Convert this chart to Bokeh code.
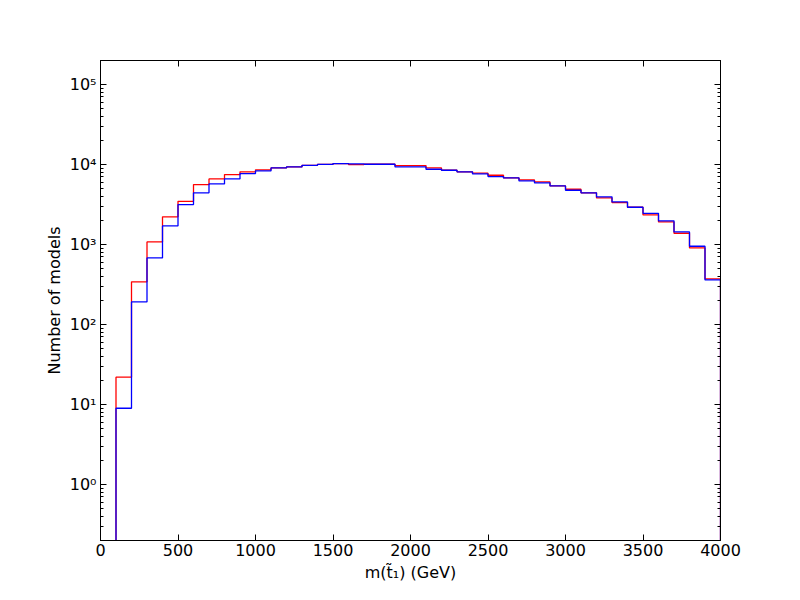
from bokeh.plotting import figure
from bokeh.models import (Range1d, FixedTicker, LinearAxis, LogAxis,
                          CustomJSTickFormatter)
from bokeh.embed import file_html
from bokeh.resources import INLINE

# ---- data ----
bin_edges = [100 + 100 * i for i in range(40)]  # 100 .. 4000 GeV
red_counts = [22, 342, 1080, 2220, 3470, 5620, 6610, 7500, 8110, 8590,
              9080, 9340, 9800, 10050, 10290, 10000, 10090, 10090, 9720, 9720,
              9080, 8490, 8110, 7800, 7360, 6810, 6430, 6070, 5410, 4920,
              4430, 3830, 3350, 2930, 2350, 1920, 1385, 909, 373]
blue_counts = [9, 192, 682, 1713, 3160, 4430, 5730, 6610, 7720, 8320,
               9080, 9340, 9800, 10050, 10290, 10190, 10090, 10090, 9360, 9360,
               8740, 8490, 8110, 7640, 7080, 6810, 6250, 5900, 5410, 4780,
               4430, 3950, 3410, 2930, 2460, 1980, 1440, 953, 362]
x_ticks = [0, 500, 1000, 1500, 2000, 2500, 3000, 3500, 4000]
y_major = [1e0, 1e1, 1e2, 1e3, 1e4, 1e5]
x_label = "m(t\u0303\u2081) (GeV)"
y_label = "Number of models"

FLOOR = 1e-3


def step_path(edges, counts):
    xs, ys = [edges[0]], [FLOOR]
    for i, c in enumerate(counts):
        xs += [edges[i], edges[i + 1]]
        ys += [c, c]
    xs.append(edges[-1])
    ys.append(FLOOR)
    return xs, ys


y_minor = [m * 10.0 ** k for k in range(-1, 6) for m in range(2, 10)]

p = figure(
    width=784, height=584,
    frame_width=620, frame_height=480,
    x_range=Range1d(0, 4000), y_range=Range1d(0.2, 2e5),
    y_axis_type="log",
    output_backend="svg", toolbar_location=None,
    min_border_left=100, min_border_right=64,
    min_border_top=60, min_border_bottom=44,
)
p.background_fill_color = "white"
p.border_fill_color = "white"
p.outline_line_color = "black"
p.outline_line_width = 1
p.xgrid.visible = False
p.ygrid.visible = False

rx, ry = step_path(bin_edges, red_counts)
bx, by = step_path(bin_edges, blue_counts)
p.line(rx, ry, line_color="#ff0000", line_width=1.3)
p.line(bx, by, line_color="#0000ff", line_width=1.3)

sup_code = """
const sup = {"0":"\u2070","1":"\u00b9","2":"\u00b2","3":"\u00b3","4":"\u2074",
             "5":"\u2075","6":"\u2076","7":"\u2077","8":"\u2078","9":"\u2079","-":"\u207b"};
const e = Math.round(Math.log10(tick));
return "10" + String(e).split("").map(c => sup[c]).join("");
"""

xt = FixedTicker(ticks=x_ticks)
yt = FixedTicker(ticks=y_major, minor_ticks=y_minor)


def style_axis(ax):
    ax.axis_line_color = "black"
    ax.major_tick_line_color = "black"
    ax.minor_tick_line_color = "black"
    ax.major_tick_in = 6
    ax.major_tick_out = 0
    ax.minor_tick_in = 3
    ax.minor_tick_out = 0
    ax.major_label_text_font = "DejaVu Sans"
    ax.major_label_text_font_size = "16px"
    ax.major_label_text_color = "black"
    ax.axis_label_text_font = "DejaVu Sans"
    ax.axis_label_text_font_size = "16px"
    ax.axis_label_text_font_style = "normal"
    ax.axis_label_text_color = "black"


xa = p.xaxis[0]
xa.ticker = xt
xa.axis_label = x_label
style_axis(xa)
xa.major_label_standoff = 3
xa.axis_label_standoff = 4

ya = p.yaxis[0]
ya.ticker = yt
ya.formatter = CustomJSTickFormatter(code=sup_code)
ya.axis_label = y_label
style_axis(ya)
ya.major_label_standoff = 4
ya.axis_label_standoff = 3

top = LinearAxis(ticker=FixedTicker(ticks=x_ticks),
                 formatter=CustomJSTickFormatter(code="return ''"))
style_axis(top)
top.major_label_text_font_size = "0px"
top.major_label_standoff = 0
p.add_layout(top, "above")

right = LogAxis(ticker=FixedTicker(ticks=y_major, minor_ticks=y_minor),
                formatter=CustomJSTickFormatter(code="return ''"))
style_axis(right)
right.major_label_text_font_size = "0px"
right.major_label_standoff = 0
p.add_layout(right, "right")

open("out.html", "w").write(file_html(p, INLINE))
